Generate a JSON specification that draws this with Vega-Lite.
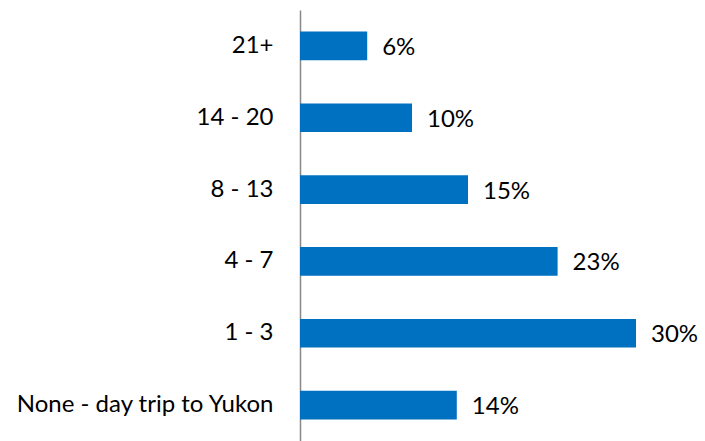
{
  "$schema": "https://vega.github.io/schema/vega-lite/v6.json",
  "width": 336,
  "height": 431,
  "autosize": {"type": "none"},
  "padding": {"left": 300, "top": 10, "right": 69, "bottom": 0},
  "background": "white",
  "data": {"values": [
    {"category": "21+", "value": 6, "label": "6%"},
    {"category": "14 - 20", "value": 10, "label": "10%"},
    {"category": "8 - 13", "value": 15, "label": "15%"},
    {"category": "4 - 7", "value": 23, "label": "23%"},
    {"category": "1 - 3", "value": 30, "label": "30%"},
    {"category": "None - day trip to Yukon", "value": 14, "label": "14%"}
  ]},
  "encoding": {
    "y": {
      "field": "category", "type": "nominal", "sort": null,
      "scale": {"paddingInner": 0.6, "paddingOuter": 0.3},
      "axis": {"title": null, "ticks": false, "domainColor": "#888888", "domainWidth": 1.5,
        "labelFont": "Lato", "labelFontSize": 24, "labelColor": "#000000", "labelPadding": 27, "labelLimit": 0}
    },
    "x": {
      "field": "value", "type": "quantitative",
      "scale": {"domain": [0, 30], "nice": false},
      "axis": null
    }
  },
  "layer": [
    {"mark": {"type": "bar", "color": "#0070C0"}},
    {"mark": {"type": "text", "align": "left", "dx": 15, "dy": 2, "font": "Lato", "fontSize": 24, "color": "#000000"},
     "encoding": {"text": {"field": "label"}}}
  ],
  "config": {"view": {"stroke": null}}
}
